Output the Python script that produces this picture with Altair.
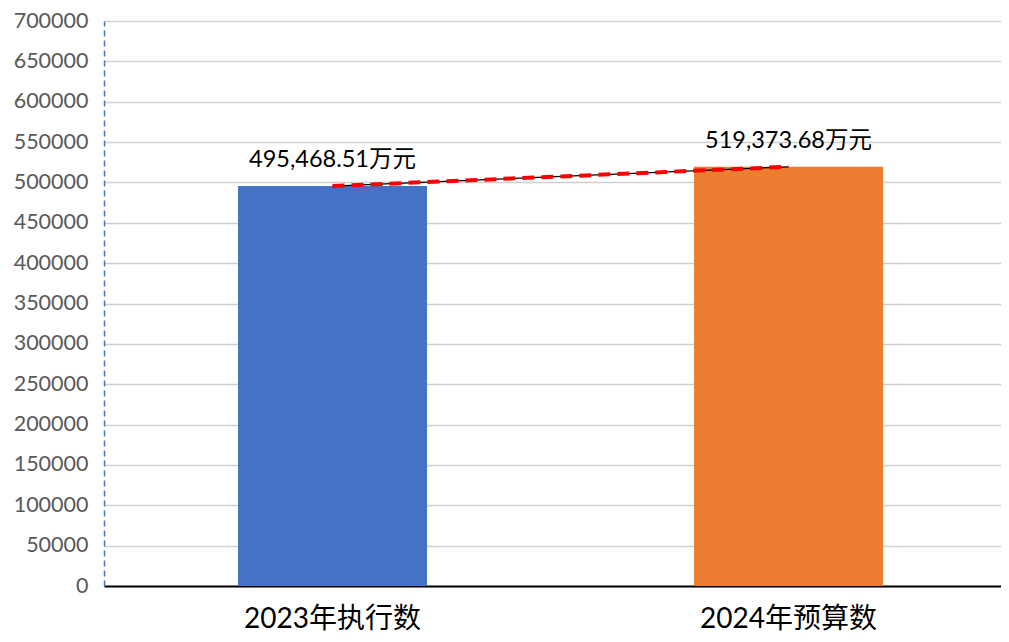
import altair as alt
import pandas as pd

categories = ["2023年执行数", "2024年预算数"]
values = [495468.51, 519373.68]
labels = ["495,468.51万元", "519,373.68万元"]
colors = ["#4472C4", "#ED7D31"]
y_ticks = list(range(0, 700001, 50000))

df = pd.DataFrame({"cat": categories, "val": values, "label": labels, "color": colors})

FONT = "Lato, Noto Sans CJK SC"

xscale = alt.Scale(domain=categories, range=[0, 913], paddingInner=0.5855, paddingOuter=0.294)

x = alt.X("cat:N", sort=categories, title=None, scale=xscale,
          axis=alt.Axis(labelAngle=0, labelFontSize=28, labelColor="#000000", labelFont=FONT,
                        labelPadding=19, labelLimit=0, ticks=False, domainColor="#000000",
                        domainWidth=2, grid=False))
y = alt.Y("val:Q", title=None,
          scale=alt.Scale(domain=[0, 700000], nice=False),
          axis=alt.Axis(values=y_ticks, format="d", labelFontSize=21.5, labelColor="#595959",
                        labelFont=FONT, labelPadding=16, ticks=False,
                        domainColor="#4472C4", domainDash=[6, 4], domainWidth=1.5,
                        gridColor="#D0D0D0", gridWidth=1.5))

bars = alt.Chart(df).mark_bar(size=189).encode(
    x=x, y=y, color=alt.Color("color:N", scale=None))

line_black = alt.Chart(df).mark_line(color="#000000", strokeWidth=1.2).encode(
    x=alt.X("cat:N", sort=categories), y="val:Q")
line_red = alt.Chart(df).mark_line(color="#FF0000", strokeWidth=4, strokeDash=[12, 7]).encode(
    x=alt.X("cat:N", sort=categories), y="val:Q")

text = alt.Chart(df).mark_text(dy=-26, fontSize=23.5, font=FONT, color="#000000").encode(
    x=alt.X("cat:N", sort=categories), y="val:Q", text="label:N")

chart = alt.layer(bars, line_black, line_red, text).properties(
    width=897, height=565,
    autosize=alt.AutoSizeParams(type="none"),
    padding={"left": 96, "top": 13, "right": 0, "bottom": 48},
).configure_view(stroke=None)

chart.save("out.html", embed_options={"renderer": "svg", "actions": False})
